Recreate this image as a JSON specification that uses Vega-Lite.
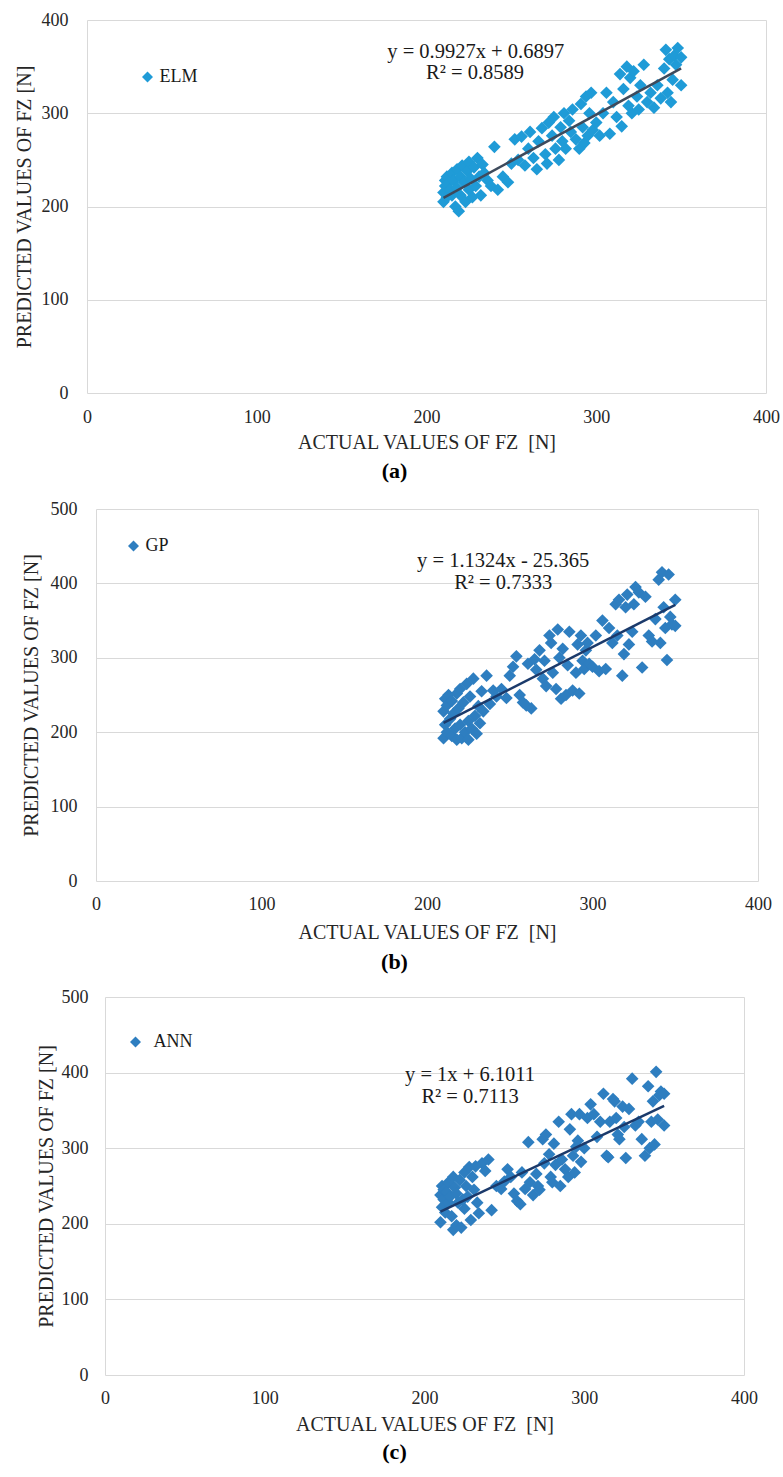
{
  "$schema": "https://vega.github.io/schema/vega-lite/v6.json",
  "background": "white",
  "padding": {"left": 13, "top": 11, "right": 5, "bottom": 5},
  "config": {"view": {"stroke": null}, "font": "Liberation Serif"},
  "datasets": {
    "fz": [
      {"actual": 210, "elm": 215, "gp": 192, "ann": 202},
      {"actual": 210, "elm": 205, "gp": 228, "ann": 238},
      {"actual": 211, "elm": 228, "gp": 245, "ann": 250},
      {"actual": 211, "elm": 222, "gp": 210, "ann": 222},
      {"actual": 212, "elm": 210, "gp": 236, "ann": 232},
      {"actual": 212, "elm": 232, "gp": 200, "ann": 245},
      {"actual": 213, "elm": 225, "gp": 250, "ann": 215},
      {"actual": 214, "elm": 218, "gp": 218, "ann": 242},
      {"actual": 215, "elm": 236, "gp": 242, "ann": 228},
      {"actual": 215, "elm": 212, "gp": 195, "ann": 255},
      {"actual": 216, "elm": 228, "gp": 225, "ann": 236},
      {"actual": 217, "elm": 200, "gp": 205, "ann": 210},
      {"actual": 218, "elm": 240, "gp": 252, "ann": 262},
      {"actual": 218, "elm": 220, "gp": 190, "ann": 192},
      {"actual": 219, "elm": 195, "gp": 232, "ann": 248},
      {"actual": 220, "elm": 232, "gp": 210, "ann": 198},
      {"actual": 220, "elm": 212, "gp": 258, "ann": 240},
      {"actual": 221, "elm": 244, "gp": 192, "ann": 228},
      {"actual": 222, "elm": 226, "gp": 240, "ann": 258},
      {"actual": 223, "elm": 205, "gp": 200, "ann": 195},
      {"actual": 224, "elm": 238, "gp": 265, "ann": 232},
      {"actual": 225, "elm": 248, "gp": 215, "ann": 268},
      {"actual": 225, "elm": 218, "gp": 190, "ann": 220},
      {"actual": 226, "elm": 230, "gp": 248, "ann": 250},
      {"actual": 227, "elm": 210, "gp": 205, "ann": 236},
      {"actual": 228, "elm": 242, "gp": 272, "ann": 275},
      {"actual": 229, "elm": 222, "gp": 222, "ann": 205},
      {"actual": 230, "elm": 252, "gp": 198, "ann": 262},
      {"actual": 231, "elm": 232, "gp": 235, "ann": 245},
      {"actual": 232, "elm": 212, "gp": 212, "ann": 276},
      {"actual": 233, "elm": 245, "gp": 255, "ann": 228},
      {"actual": 234, "elm": 236, "gp": 228, "ann": 214},
      {"actual": 236, "elm": 228, "gp": 276, "ann": 280},
      {"actual": 238, "elm": 222, "gp": 238, "ann": 270},
      {"actual": 240, "elm": 264, "gp": 256, "ann": 285},
      {"actual": 242, "elm": 218, "gp": 248, "ann": 218},
      {"actual": 245, "elm": 232, "gp": 258, "ann": 250},
      {"actual": 248, "elm": 226, "gp": 246, "ann": 246},
      {"actual": 250, "elm": 246, "gp": 276, "ann": 256},
      {"actual": 252, "elm": 272, "gp": 288, "ann": 272},
      {"actual": 254, "elm": 250, "gp": 302, "ann": 262},
      {"actual": 256, "elm": 275, "gp": 250, "ann": 240},
      {"actual": 258, "elm": 244, "gp": 240, "ann": 230},
      {"actual": 260, "elm": 262, "gp": 236, "ann": 226},
      {"actual": 261, "elm": 280, "gp": 292, "ann": 268},
      {"actual": 263, "elm": 252, "gp": 232, "ann": 246},
      {"actual": 265, "elm": 240, "gp": 298, "ann": 308},
      {"actual": 266, "elm": 270, "gp": 284, "ann": 255},
      {"actual": 268, "elm": 284, "gp": 310, "ann": 238},
      {"actual": 270, "elm": 256, "gp": 272, "ann": 266},
      {"actual": 271, "elm": 246, "gp": 296, "ann": 250},
      {"actual": 272, "elm": 290, "gp": 262, "ann": 245},
      {"actual": 274, "elm": 276, "gp": 330, "ann": 312},
      {"actual": 275, "elm": 296, "gp": 320, "ann": 280},
      {"actual": 276, "elm": 262, "gp": 280, "ann": 318},
      {"actual": 278, "elm": 250, "gp": 258, "ann": 292},
      {"actual": 279, "elm": 285, "gp": 338, "ann": 262},
      {"actual": 280, "elm": 270, "gp": 300, "ann": 255},
      {"actual": 281, "elm": 300, "gp": 245, "ann": 306},
      {"actual": 282, "elm": 262, "gp": 312, "ann": 278},
      {"actual": 284, "elm": 292, "gp": 250, "ann": 335},
      {"actual": 285, "elm": 280, "gp": 290, "ann": 250},
      {"actual": 286, "elm": 304, "gp": 335, "ann": 285},
      {"actual": 288, "elm": 272, "gp": 256, "ann": 272},
      {"actual": 290, "elm": 262, "gp": 280, "ann": 262},
      {"actual": 291, "elm": 310, "gp": 318, "ann": 325},
      {"actual": 292, "elm": 285, "gp": 252, "ann": 345},
      {"actual": 293, "elm": 268, "gp": 330, "ann": 290},
      {"actual": 294, "elm": 318, "gp": 296, "ann": 268},
      {"actual": 295, "elm": 276, "gp": 285, "ann": 302},
      {"actual": 296, "elm": 300, "gp": 310, "ann": 310},
      {"actual": 297, "elm": 322, "gp": 320, "ann": 345},
      {"actual": 298, "elm": 282, "gp": 292, "ann": 282},
      {"actual": 300, "elm": 290, "gp": 288, "ann": 300},
      {"actual": 302, "elm": 276, "gp": 330, "ann": 340},
      {"actual": 304, "elm": 300, "gp": 282, "ann": 358},
      {"actual": 306, "elm": 322, "gp": 350, "ann": 345},
      {"actual": 308, "elm": 278, "gp": 285, "ann": 315},
      {"actual": 310, "elm": 312, "gp": 340, "ann": 335},
      {"actual": 312, "elm": 296, "gp": 320, "ann": 372},
      {"actual": 314, "elm": 342, "gp": 372, "ann": 290},
      {"actual": 315, "elm": 286, "gp": 330, "ann": 288},
      {"actual": 316, "elm": 326, "gp": 378, "ann": 335},
      {"actual": 318, "elm": 350, "gp": 276, "ann": 365},
      {"actual": 319, "elm": 308, "gp": 305, "ann": 362},
      {"actual": 320, "elm": 338, "gp": 368, "ann": 340},
      {"actual": 321, "elm": 300, "gp": 385, "ann": 318},
      {"actual": 322, "elm": 345, "gp": 318, "ann": 312},
      {"actual": 324, "elm": 318, "gp": 335, "ann": 355},
      {"actual": 325, "elm": 304, "gp": 372, "ann": 328},
      {"actual": 326, "elm": 330, "gp": 395, "ann": 287},
      {"actual": 328, "elm": 352, "gp": 388, "ann": 352},
      {"actual": 330, "elm": 312, "gp": 287, "ann": 392},
      {"actual": 332, "elm": 322, "gp": 382, "ann": 330},
      {"actual": 334, "elm": 306, "gp": 330, "ann": 335},
      {"actual": 336, "elm": 330, "gp": 322, "ann": 312},
      {"actual": 338, "elm": 316, "gp": 352, "ann": 290},
      {"actual": 340, "elm": 348, "gp": 405, "ann": 382},
      {"actual": 341, "elm": 368, "gp": 320, "ann": 300},
      {"actual": 342, "elm": 322, "gp": 415, "ann": 335},
      {"actual": 343, "elm": 358, "gp": 368, "ann": 362},
      {"actual": 344, "elm": 312, "gp": 340, "ann": 305},
      {"actual": 345, "elm": 336, "gp": 297, "ann": 401},
      {"actual": 346, "elm": 362, "gp": 412, "ann": 338},
      {"actual": 347, "elm": 352, "gp": 355, "ann": 370},
      {"actual": 348, "elm": 370, "gp": 345, "ann": 375},
      {"actual": 350, "elm": 330, "gp": 378, "ann": 330},
      {"actual": 350, "elm": 360, "gp": 343, "ann": 372}
    ]
  },
  "spacing": 116,
  "bounds": "flush",
  "resolve": {
    "scale": {"x": "independent", "y": "independent", "color": "independent"},
    "legend": {"color": "independent"}
  },
  "vconcat": [
    {
      "width": 679,
      "height": 373,
      "title": {"text": "(a)", "orient": "bottom", "frame": "group", "anchor": "middle", "dx": -32, "offset": 9, "font": "Liberation Serif", "fontSize": 22, "fontWeight": "bold", "color": "#000000"},
      "layer": [
        {
          "data": {"name": "fz"},
          "mark": {"type": "point", "shape": "diamond", "filled": true, "size": 160, "opacity": 1},
          "encoding": {
            "x": {
              "field": "actual", "type": "quantitative",
              "scale": {"domain": [0, 400], "range": [0, 679], "nice": false, "zero": false},
              "axis": {
                "title": "ACTUAL VALUES OF FZ\u00a0 [N]", "values": [0, 100, 200, 300, 400],
                "grid": true, "gridColor": {"condition": {"test": "datum.value == 0 || datum.value == 400", "value": "#d9d9d9"}, "value": "transparent"},
                "domain": false, "ticks": false, "tickSize": 0, "labelFlush": false, "labelPadding": 15,
                "labelFont": "Liberation Serif", "labelFontSize": 18, "labelColor": "#262626",
                "titleFont": "Liberation Serif", "titleFontSize": 20, "titleFontWeight": "normal", "titleColor": "#262626",
                "titleY": 49, "titleBaseline": "middle"
              }
            },
            "y": {
              "field": "elm", "type": "quantitative",
              "scale": {"domain": [0, 400], "nice": false, "zero": false},
              "axis": {
                "title": "PREDICTED VALUES OF FZ [N]", "values": [0, 100, 200, 300, 400],
                "grid": true, "gridColor": "#d9d9d9", "domain": false, "ticks": false, "tickSize": 0,
                "labelFlush": false, "labelPadding": 19,
                "labelFont": "Liberation Serif", "labelFontSize": 18, "labelColor": "#262626",
                "titleFont": "Liberation Serif", "titleFontSize": 20, "titleFontWeight": "normal", "titleColor": "#262626",
                "titleAngle": 270, "titleX": -63, "titleY": 186.5, "titleAlign": "center", "titleBaseline": "middle"
              }
            },
            "color": {"datum": "ELM", "type": "nominal", "scale": {"range": ["#1F9BD7"]},
              "legend": {"orient": "none", "legendX": 51.5, "legendY": 48, "title": null, "padding": 0, "symbolType": "diamond", "symbolSize": 120, "symbolStrokeWidth": 0, "labelFont": "Liberation Serif", "labelFontSize": 18, "labelColor": "#1a1a1a", "labelOffset": 3}}
          }
        },
        {
          "data": {"values": [{"actual": 210, "elm": 209.2}, {"actual": 350, "elm": 348.1}]},
          "mark": {"type": "line", "color": "#3E4A5C", "strokeWidth": 2.5},
          "encoding": {
            "x": {"field": "actual", "type": "quantitative"},
            "y": {"field": "elm", "type": "quantitative"}
          }
        },
        {
          "data": {"values": [{"label": "y = 0.9927x  + 0.6897"}]},
          "mark": {"type": "text", "font": "Liberation Serif", "fontSize": 20.5, "color": "#1a1a1a", "align": "center", "baseline": "middle"},
          "encoding": {
            "x": {"datum": 229, "type": "quantitative"},
            "y": {"datum": 366, "type": "quantitative"},
            "text": {"field": "label"}
          }
        },
        {
          "data": {"values": [{"label": "R² = 0.8589"}]},
          "mark": {"type": "text", "font": "Liberation Serif", "fontSize": 20.5, "color": "#1a1a1a", "align": "center", "baseline": "middle"},
          "encoding": {
            "x": {"datum": 228.6, "type": "quantitative"},
            "y": {"datum": 343, "type": "quantitative"},
            "text": {"field": "label"}
          }
        }
      ]
    },
    {
      "width": 679,
      "height": 372,
      "title": {"text": "(b)", "orient": "bottom", "frame": "group", "anchor": "middle", "dx": -32, "offset": 10, "font": "Liberation Serif", "fontSize": 22, "fontWeight": "bold", "color": "#000000"},
      "layer": [
        {
          "data": {"name": "fz"},
          "mark": {"type": "point", "shape": "diamond", "filled": true, "size": 160, "opacity": 1},
          "encoding": {
            "x": {
              "field": "actual", "type": "quantitative",
              "scale": {"domain": [0, 400], "range": [9, 671], "nice": false, "zero": false},
              "axis": {
                "title": "ACTUAL VALUES OF FZ\u00a0 [N]", "values": [0, 100, 200, 300, 400],
                "grid": true, "gridColor": {"condition": {"test": "datum.value == 0 || datum.value == 400", "value": "#d9d9d9"}, "value": "transparent"},
                "domain": false, "ticks": false, "tickSize": 0, "labelFlush": false, "labelPadding": 14,
                "labelFont": "Liberation Serif", "labelFontSize": 18, "labelColor": "#262626",
                "titleFont": "Liberation Serif", "titleFontSize": 20, "titleFontWeight": "normal", "titleColor": "#262626",
                "titleY": 51, "titleBaseline": "middle"
              }
            },
            "y": {
              "field": "gp", "type": "quantitative",
              "scale": {"domain": [0, 500], "nice": false, "zero": false},
              "axis": {
                "title": "PREDICTED VALUES OF FZ [N]", "values": [0, 100, 200, 300, 400, 500],
                "grid": true, "gridColor": "#d9d9d9", "domain": false, "ticks": false, "tickSize": 0,
                "labelFlush": false, "labelPadding": 19, "offset": -9,
                "labelFont": "Liberation Serif", "labelFontSize": 18, "labelColor": "#262626",
                "titleFont": "Liberation Serif", "titleFontSize": 20, "titleFontWeight": "normal", "titleColor": "#262626",
                "titleAngle": 270, "titleX": -65, "titleY": 186, "titleAlign": "center", "titleBaseline": "middle"
              }
            },
            "color": {"datum": "GP", "type": "nominal", "scale": {"range": ["#2E7EC0"]},
              "legend": {"orient": "none", "legendX": 37.5, "legendY": 28, "title": null, "padding": 0, "symbolType": "diamond", "symbolSize": 120, "symbolStrokeWidth": 0, "labelFont": "Liberation Serif", "labelFontSize": 18, "labelColor": "#1a1a1a", "labelOffset": 3}}
          }
        },
        {
          "data": {"values": [{"actual": 210, "gp": 212.4}, {"actual": 350, "gp": 371.0}]},
          "mark": {"type": "line", "color": "#1B3A6B", "strokeWidth": 2.5},
          "encoding": {
            "x": {"field": "actual", "type": "quantitative"},
            "y": {"field": "gp", "type": "quantitative"}
          }
        },
        {
          "data": {"values": [{"label": "y = 1.1324x  - 25.365"}]},
          "mark": {"type": "text", "font": "Liberation Serif", "fontSize": 20.5, "color": "#1a1a1a", "align": "center", "baseline": "middle"},
          "encoding": {
            "x": {"datum": 246, "type": "quantitative"},
            "y": {"datum": 430, "type": "quantitative"},
            "text": {"field": "label"}
          }
        },
        {
          "data": {"values": [{"label": "R² = 0.7333"}]},
          "mark": {"type": "text", "font": "Liberation Serif", "fontSize": 20.5, "color": "#1a1a1a", "align": "center", "baseline": "middle"},
          "encoding": {
            "x": {"datum": 246, "type": "quantitative"},
            "y": {"datum": 400, "type": "quantitative"},
            "text": {"field": "label"}
          }
        }
      ]
    },
    {
      "width": 679,
      "height": 378,
      "title": {"text": "(c)", "orient": "bottom", "frame": "group", "anchor": "middle", "dx": -32, "offset": 8, "font": "Liberation Serif", "fontSize": 22, "fontWeight": "bold", "color": "#000000"},
      "layer": [
        {
          "data": {"name": "fz"},
          "mark": {"type": "point", "shape": "diamond", "filled": true, "size": 160, "opacity": 1},
          "encoding": {
            "x": {
              "field": "actual", "type": "quantitative",
              "scale": {"domain": [0, 400], "range": [18, 657], "nice": false, "zero": false},
              "axis": {
                "title": "ACTUAL VALUES OF FZ\u00a0 [N]", "values": [0, 100, 200, 300, 400],
                "grid": true, "gridColor": {"condition": {"test": "datum.value == 0 || datum.value == 400", "value": "#d9d9d9"}, "value": "transparent"},
                "domain": false, "ticks": false, "tickSize": 0, "labelFlush": false, "labelPadding": 14,
                "labelFont": "Liberation Serif", "labelFontSize": 18, "labelColor": "#262626",
                "titleFont": "Liberation Serif", "titleFontSize": 20, "titleFontWeight": "normal", "titleColor": "#262626",
                "titleY": 49, "titleBaseline": "middle"
              }
            },
            "y": {
              "field": "ann", "type": "quantitative",
              "scale": {"domain": [0, 500], "nice": false, "zero": false},
              "axis": {
                "title": "PREDICTED VALUES OF FZ [N]", "values": [0, 100, 200, 300, 400, 500],
                "grid": true, "gridColor": "#d9d9d9", "domain": false, "ticks": false, "tickSize": 0,
                "labelFlush": false, "labelPadding": 17, "offset": -18,
                "labelFont": "Liberation Serif", "labelFontSize": 18, "labelColor": "#262626",
                "titleFont": "Liberation Serif", "titleFontSize": 20, "titleFontWeight": "normal", "titleColor": "#262626",
                "titleAngle": 270, "titleX": -59, "titleY": 189, "titleAlign": "center", "titleBaseline": "middle"
              }
            },
            "color": {"datum": "ANN", "type": "nominal", "scale": {"range": ["#2E7EC0"]},
              "legend": {"orient": "none", "legendX": 39.5, "legendY": 36, "title": null, "padding": 0, "symbolType": "diamond", "symbolSize": 120, "symbolStrokeWidth": 0, "labelFont": "Liberation Serif", "labelFontSize": 18, "labelColor": "#1a1a1a", "labelOffset": 9}}
          }
        },
        {
          "data": {"values": [{"actual": 210, "ann": 216.1}, {"actual": 350, "ann": 356.1}]},
          "mark": {"type": "line", "color": "#1B3A6B", "strokeWidth": 2.5},
          "encoding": {
            "x": {"field": "actual", "type": "quantitative"},
            "y": {"field": "ann", "type": "quantitative"}
          }
        },
        {
          "data": {"values": [{"label": "y = 1x + 6.1011"}]},
          "mark": {"type": "text", "font": "Liberation Serif", "fontSize": 20.5, "color": "#1a1a1a", "align": "center", "baseline": "middle"},
          "encoding": {
            "x": {"datum": 228.5, "type": "quantitative"},
            "y": {"datum": 397, "type": "quantitative"},
            "text": {"field": "label"}
          }
        },
        {
          "data": {"values": [{"label": "R² = 0.7113"}]},
          "mark": {"type": "text", "font": "Liberation Serif", "fontSize": 20.5, "color": "#1a1a1a", "align": "center", "baseline": "middle"},
          "encoding": {
            "x": {"datum": 228.5, "type": "quantitative"},
            "y": {"datum": 368, "type": "quantitative"},
            "text": {"field": "label"}
          }
        }
      ]
    }
  ]
}
